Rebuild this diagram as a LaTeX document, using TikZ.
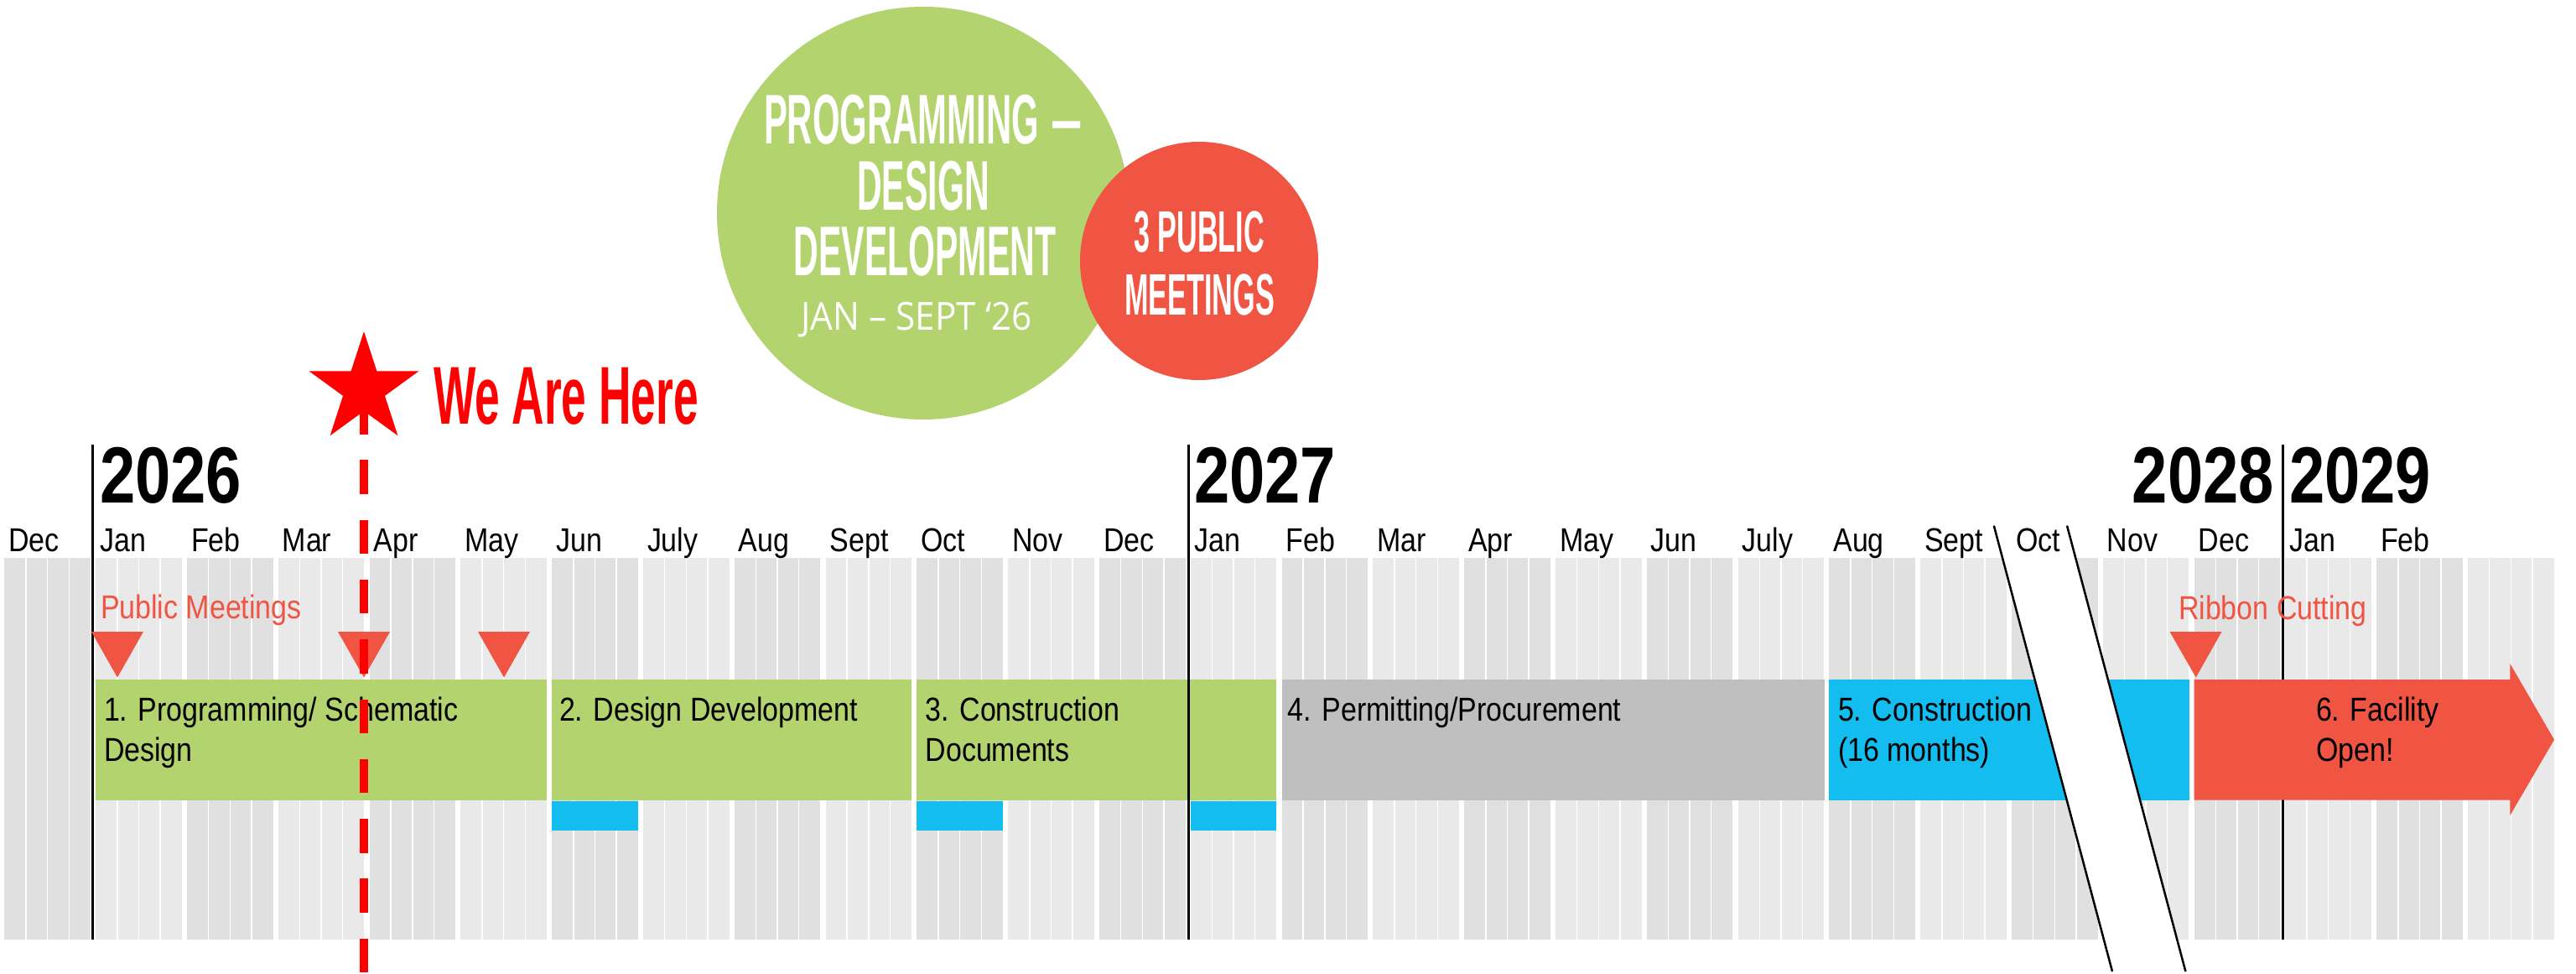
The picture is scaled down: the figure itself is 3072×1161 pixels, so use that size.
\documentclass[tikz,border=0pt]{standalone}
\usepackage{fontspec}
\usetikzlibrary{shapes.geometric}
\newfontfamily\rf{Liberation Sans}[FakeStretch=0.86]
\newfontfamily\yf{Liberation Sans}[FakeStretch=0.8]
\newfontfamily\gf{Liberation Sans}[FakeStretch=0.49]
\newfontfamily\gwf{Liberation Sans}[FakeStretch=0.5]
\newfontfamily\wf{Liberation Sans}[FakeStretch=0.545]
\newfontfamily\lf{Open Sans}[FakeStretch=0.92]
\definecolor{grn}{HTML}{B2D36E}
\definecolor{rd}{HTML}{F05442}
\definecolor{blu}{HTML}{14BDEF}
\definecolor{gry}{HTML}{BFBFBF}
\definecolor{gdark}{HTML}{E0E0E0}
\definecolor{glight}{HTML}{E9E9E9}
\definecolor{pured}{HTML}{FF0000}
\begin{document}
\begin{tikzpicture}[x=1pt,y=-1pt,
  lbl/.style={inner sep=0pt,outer sep=0pt,anchor=base west},
  regtxt/.style={lbl,font=\rf\fontsize{39.5}{46}\selectfont},
  redtxt/.style={regtxt,text=rd},
  yeartxt/.style={lbl,font=\yf\bfseries\fontsize{95}{100}\selectfont},
  bubtxt/.style={inner sep=0pt,outer sep=0pt,anchor=base,text=white,font=\gf\bfseries\fontsize{83.8}{90}\selectfont},
  bubsmall/.style={bubtxt,font=\gf\bfseries\fontsize{69.8}{75}\selectfont},
  bublight/.style={inner sep=0pt,outer sep=0pt,anchor=base,text=white,font=\lf\fontsize{46}{52}\selectfont},
  yearline/.style={line width=3pt,black},
  meet/.style={fill=rd},
]
\useasboundingbox (0,0) rectangle (3072,1161);

% ---------- grid ----------
\foreach \k in {0,...,27}{
  \pgfmathsetmacro\xa{5.4+108.8*\k}
  \pgfmathsetmacro\xb{\xa+102.5}
  \ifodd\k
    \fill[glight] (\xa,664.6) rectangle (\xb,1120);
  \else
    \fill[gdark] (\xa,664.6) rectangle (\xb,1120);
  \fi
  \foreach \j in {1,2,3}{
    \pgfmathsetmacro\xw{\xa+25.625*\j}
    \draw[white,line width=1.5pt] (\xw,664.6) -- (\xw,1120);
  }
}

% ---------- bars ----------
\fill[grn] (114.2,810) rectangle (651.9,953.6);
\fill[grn] (658.2,810) rectangle (1087.1,953.6);
\fill[grn] (1093.4,810) rectangle (1522.3,953.6);
\fill[gry] (1528.6,810) rectangle (2175.6,953.6);
\fill[blu] (2181.4,810) rectangle (2610.8,953.6);
% small blue bars
\fill[blu] (658.2,955) rectangle (760.7,990);
\fill[blu] (1093.4,955) rectangle (1195.9,990);
\fill[blu] (1419.8,955) rectangle (1522.3,990);

% ---------- year lines ----------
\coordinate (y26t) at (110.7,530); \coordinate (y26b) at (110.7,1120);
\coordinate (y27t) at (1417,530);  \coordinate (y27b) at (1417,1120);
\coordinate (y29t) at (2722.7,530); \coordinate (y29b) at (2722.7,1120);
\draw[yearline] (y26t) -- (y26b);
\draw[yearline] (y27t) -- (y27b);
\draw[yearline] (y29t) -- (y29b);

% ---------- facility arrow ----------
\fill[rd] (2616.6,810) -- (2993.3,810) -- (2993.3,791) -- (3046,881.7)
  -- (2993.3,972) -- (2993.3,953.6) -- (2616.6,953.6) -- cycle;

% ---------- break ----------
\fill[white] (2377.8,626.6) -- (2465,626.6) -- (2606.4,1158) -- (2519,1158) -- cycle;
\coordinate (brA1) at (2377.8,626.6); \coordinate (brA2) at (2519,1158);
\coordinate (brB1) at (2465,626.6);   \coordinate (brB2) at (2606.4,1158);
\draw[black,line width=2.5pt] (brA1) -- (brA2);
\draw[black,line width=2.5pt] (brB1) -- (brB2);

% ---------- meeting triangles ----------
\fill[meet] (109,753) -- (171,753) -- (140,807.5) -- cycle;
\fill[meet] (403,753) -- (465,753) -- (434,807.5) -- cycle;
\fill[meet] (570,753) -- (632,753) -- (601,807.5) -- cycle;
\fill[meet] (2587.5,753) -- (2649.5,753) -- (2618.7,807.5) -- cycle;

% ---------- month labels ----------
\foreach \k/\m in {0/Dec,1/Jan,2/Feb,3/Mar,4/Apr,5/May,6/Jun,7/July,8/Aug,9/Sept,10/Oct,11/Nov,12/Dec,13/Jan,14/Feb,15/Mar,16/Apr,17/May,18/Jun,19/July,20/Aug,21/Sept,22/Oct,23/Nov,24/Dec,25/Jan,26/Feb}{
  \pgfmathsetmacro\xl{5.4+108.8*\k+5}
  \node[regtxt] (m\k) at (\xl,657) {\m};
}

% ---------- years ----------
\node[yeartxt] (yr26) at (119,599) {2026};
\node[yeartxt] (yr27) at (1424,599) {2027};
\node[yeartxt,anchor=base east] (yr28) at (2712,599) {2028};
\node[yeartxt] (yr29) at (2730,599) {2029};

% ---------- bar texts ----------
\node[regtxt] (b1a) at (124,859) {1. Programming/ Schematic};
\node[regtxt] (b1b) at (124,907) {Design};
\node[regtxt] (b2a) at (667,859) {2. Design Development};
\node[regtxt] (b3a) at (1103.6,859) {3. Construction};
\node[regtxt] (b3b) at (1103.6,907) {Documents};
\node[regtxt] (b4a) at (1535.7,859) {4. Permitting/Procurement};
\node[regtxt] (b5a) at (2192,859) {5. Construction};
\node[regtxt] (b5b) at (2192,907) {(16 months)};
\node[regtxt] (b6a) at (2762,859) {6. Facility};
\node[regtxt] (b6b) at (2762,907) {Open!};

\node[redtxt] (pm) at (120,737) {Public Meetings};
\node[redtxt] (rc) at (2598,738) {Ribbon Cutting};

% ---------- we are here ----------
\coordinate (dtop) at (434,477);
\coordinate (dbot) at (434,1161);
\draw[pured,line width=10pt,dash pattern=on 40.5pt off 30.8pt] (dtop) -- (dbot);
\node[star,star points=5,star point ratio=2.618,minimum size=137.4pt,inner sep=0pt,fill=pured] (star) at (434,463.7) {};
\node[lbl,text=pured,font=\wf\bfseries\fontsize{97.8}{100}\selectfont] (here) at (517,505.7) {We Are Here};

% ---------- bubbles ----------
\node[circle,fill=grn,minimum size=492pt,inner sep=0pt] (gbub) at (1101,254) {};
\node[circle,fill=rd,minimum size=284pt,inner sep=0pt] (rbub) at (1430,311) {};
\node[bubtxt,anchor=base west,font=\gwf\bfseries\fontsize{83.8}{90}\selectfont] (g1) at (911,171.7) {PROGRAMMING\hspace{14pt}\scalebox{1.6}[1]{–}};
\node[bubtxt] (g2) at (1101,250) {DESIGN};
\node[bubtxt] (g3) at (1103,328.3) {DEVELOPMENT};
\node[bublight] (g4) at (1093,393.3) {JAN – SEPT ‘26};
\node[bubsmall] (r1) at (1430,300) {3 PUBLIC};
\node[bubsmall] (r2) at (1430.5,375) {MEETINGS};
\end{tikzpicture}
\end{document}
